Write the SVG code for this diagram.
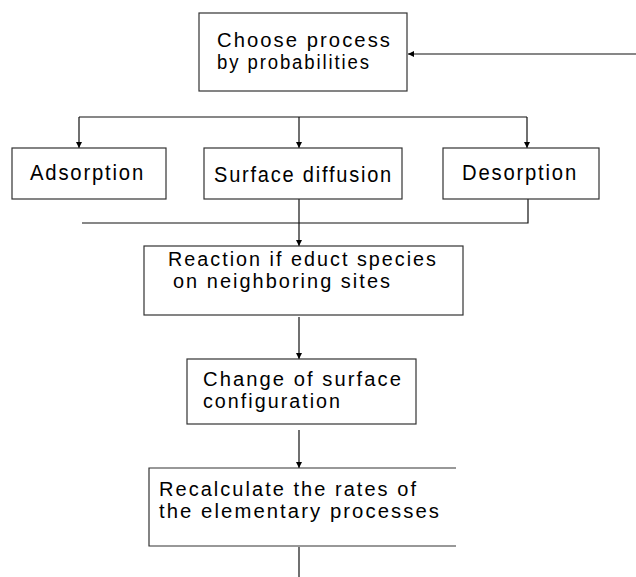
<svg xmlns="http://www.w3.org/2000/svg" width="636" height="577" viewBox="0 0 636 577">
<defs>
<style>
.box{fill:#fff;stroke:#333;stroke-width:1.2}
.ln{fill:none;stroke:#111;stroke-width:1.2}
text{font-family:"Liberation Sans",Arial,sans-serif;font-size:19.6px;letter-spacing:2px;fill:#000}
.big{font-size:22.5px}
</style>
<marker id="ah" viewBox="0 0 10 10" refX="10" refY="5" markerWidth="6" markerHeight="6" markerUnits="userSpaceOnUse" orient="auto">
<path d="M0,0 L10,5 L0,10 Z" fill="#000"/>
</marker>
</defs>
<rect width="636" height="577" fill="#fff"/>
<g id="connectors">
<line class="ln" x1="636" y1="54" x2="408" y2="54" marker-end="url(#ah)"/>
<line class="ln" x1="79" y1="117" x2="527" y2="117"/>
<line class="ln" x1="79" y1="117" x2="79" y2="148" marker-end="url(#ah)"/>
<line class="ln" x1="299" y1="117" x2="299" y2="148" marker-end="url(#ah)"/>
<line class="ln" x1="527" y1="117" x2="527" y2="148" marker-end="url(#ah)"/>
<line class="ln" x1="299" y1="199" x2="299" y2="246" marker-end="url(#ah)"/>
<polyline class="ln" points="528,199 528,223 82,223"/>
<line class="ln" x1="299" y1="317" x2="299" y2="359" marker-end="url(#ah)"/>
<line class="ln" x1="299" y1="430" x2="299" y2="468" marker-end="url(#ah)"/>
<line class="ln" x1="299" y1="547" x2="299" y2="577"/>
</g>
<g id="choose">
<rect class="box" x="199" y="13" width="208" height="78"/>
<text><tspan x="217" y="47" textLength="175" lengthAdjust="spacingAndGlyphs">Choose process</tspan><tspan x="217" y="69" textLength="154" lengthAdjust="spacingAndGlyphs">by probabilities</tspan></text>
</g>
<g id="adsorption">
<rect class="box" x="12" y="148" width="154" height="51"/>
<text class="big" x="30" y="180" textLength="115" lengthAdjust="spacingAndGlyphs">Adsorption</text>
</g>
<g id="surface-diffusion">
<rect class="box" x="204" y="148" width="198" height="51"/>
<text class="big" x="214" y="182" textLength="179" lengthAdjust="spacingAndGlyphs">Surface diffusion</text>
</g>
<g id="desorption">
<rect class="box" x="443" y="148" width="156" height="51"/>
<text class="big" x="462" y="180" textLength="116" lengthAdjust="spacingAndGlyphs">Desorption</text>
</g>
<g id="reaction">
<rect class="box" x="144" y="246" width="319" height="69"/>
<text><tspan x="168" y="266" textLength="270" lengthAdjust="spacingAndGlyphs">Reaction if educt species</tspan><tspan x="173" y="288" textLength="219" lengthAdjust="spacingAndGlyphs">on neighboring sites</tspan></text>
</g>
<g id="change">
<rect class="box" x="187" y="359" width="229" height="65"/>
<text><tspan x="203" y="386" textLength="200" lengthAdjust="spacingAndGlyphs">Change of surface</tspan><tspan x="203" y="408" textLength="139" lengthAdjust="spacingAndGlyphs">configuration</tspan></text>
</g>
<g id="recalculate">
<polyline class="box" style="fill:none" points="456,468 149,468 149,546 456,546"/>
<text><tspan x="159" y="496" textLength="259" lengthAdjust="spacingAndGlyphs">Recalculate the rates of</tspan><tspan x="159" y="518" textLength="282" lengthAdjust="spacingAndGlyphs">the elementary processes</tspan></text>
</g>
</svg>
